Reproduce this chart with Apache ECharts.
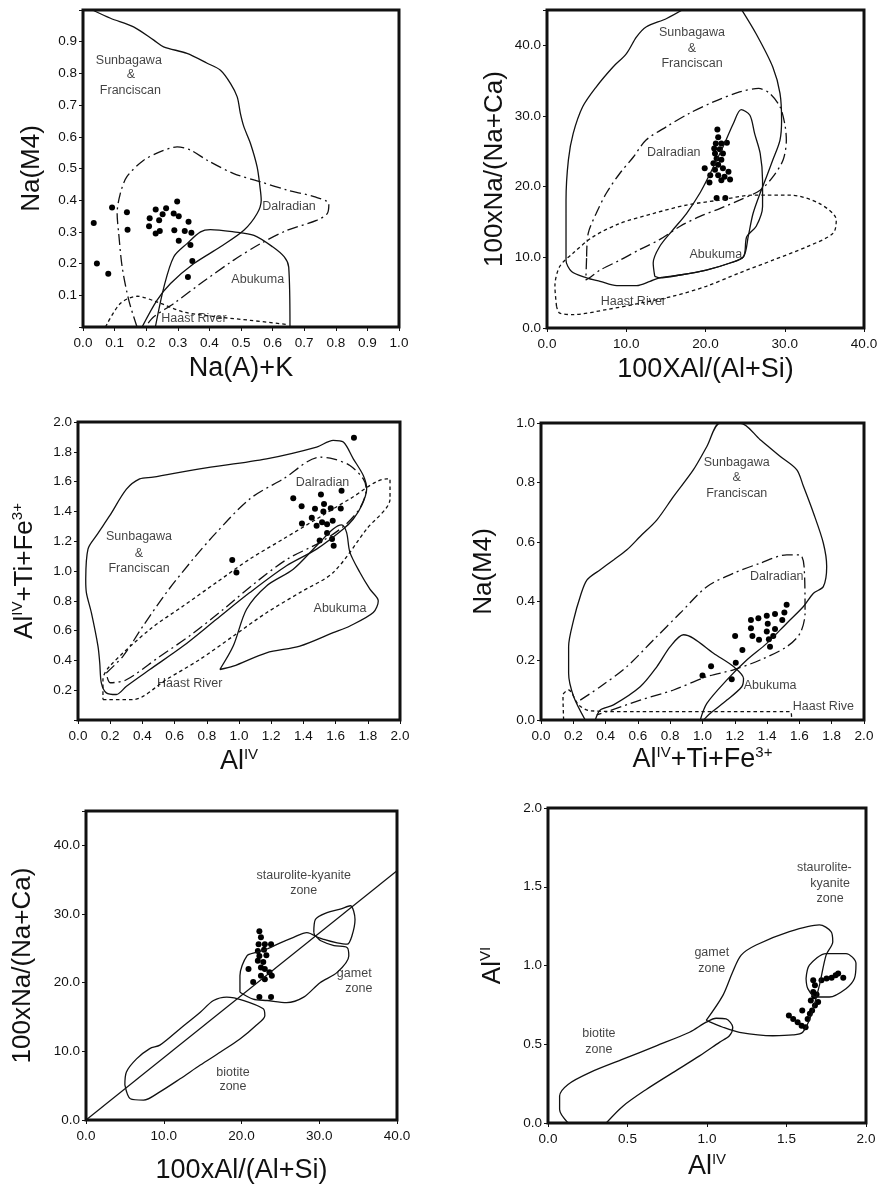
<!DOCTYPE html>
<html><head><meta charset="utf-8">
<script src="https://cdn.jsdelivr.net/npm/echarts@6/dist/echarts.min.js"></script>
<style>html,body{margin:0;padding:0;background:#fff}#c{width:882px;height:1187px}</style>
</head><body><div id="c"></div><script>
// ---------- Panel 1: Na(M4) vs Na(A)+K ----------
const p1Sunbagawa = [[0.03,1.0],[0.087,0.974],[0.16,0.947],[0.224,0.905],[0.255,0.884],[0.329,0.863],[0.393,0.832],[0.435,0.81],[0.467,0.768],[0.488,0.726],[0.498,0.674],[0.509,0.632],[0.53,0.579],[0.551,0.505],[0.56,0.442],[0.564,0.4],[0.551,0.358],[0.509,0.305],[0.435,0.253],[0.351,0.2],[0.277,0.137],[0.234,0.084],[0.187,0.0]];
const p1Dalradian = [[0.171,0.0],[0.145,0.084],[0.124,0.189],[0.113,0.295],[0.108,0.358],[0.118,0.421],[0.139,0.474],[0.192,0.526],[0.245,0.553],[0.298,0.568],[0.34,0.558],[0.393,0.526],[0.477,0.484],[0.562,0.458],[0.646,0.432],[0.731,0.411],[0.778,0.389],[0.773,0.358],[0.741,0.337],[0.646,0.305],[0.562,0.263],[0.477,0.211],[0.372,0.137],[0.287,0.074],[0.224,0.032],[0.197,0.0]];
const p1Abukuma = [[0.229,0.0],[0.256,0.126],[0.287,0.221],[0.329,0.263],[0.372,0.3],[0.403,0.307],[0.477,0.3],[0.541,0.289],[0.6,0.253],[0.637,0.221],[0.651,0.189],[0.655,0.0]];
const p1Haast = [[0.071,0.0],[0.118,0.074],[0.171,0.097],[0.234,0.079],[0.319,0.047],[0.425,0.032],[0.53,0.021],[0.646,0.008]];
const p1Points = [[0.034,0.328],[0.044,0.2],[0.08,0.168],[0.092,0.377],[0.139,0.362],[0.141,0.307],[0.211,0.343],[0.209,0.318],[0.23,0.371],[0.241,0.337],[0.252,0.356],[0.263,0.375],[0.23,0.295],[0.243,0.303],[0.287,0.358],[0.298,0.396],[0.303,0.349],[0.289,0.305],[0.303,0.272],[0.322,0.303],[0.334,0.332],[0.343,0.297],[0.34,0.259],[0.346,0.208],[0.332,0.158]];
const p1Labels = [["Sunbagawa",0.145,0.842],["&",0.152,0.795],["Franciscan",0.15,0.747],["Dalradian",0.652,0.379],["Abukuma",0.553,0.149],["Haast River",0.351,0.026]];

// ---------- Panel 2: 100xNa/(Na+Ca) vs 100XAl/(Al+Si) ----------
const p2Sunbagawa = [[17.8,45.5],[15.1,43.8],[12.5,42.6],[11.3,41.2],[10.0,38.8],[8.3,36.9],[6.2,34.1],[4.5,31.3],[3.3,27.5],[2.7,23.8],[2.4,18.1],[2.4,13.4],[2.4,9.6],[3.1,8.0],[5.0,7.1],[6.7,6.6],[8.8,6.0],[11.3,6.0],[13.0,6.6],[14.2,7.1],[16.8,7.5],[20.1,8.2],[23.1,9.2],[24.8,10.1],[25.4,13.0],[26.0,16.2],[26.9,19.1],[27.7,21.4],[28.5,23.8],[29.4,26.6],[29.6,29.4],[29.4,33.2],[28.5,36.9],[26.4,41.6],[24.3,45.5]];
const p2Dalradian = [[5.0,10.1],[5.2,13.4],[6.2,16.2],[7.5,19.1],[9.2,21.9],[10.9,24.2],[12.5,26.6],[15.1,28.5],[18.0,30.4],[21.0,32.0],[24.3,33.4],[26.7,33.9],[28.1,33.2],[29.4,31.3],[30.0,28.9],[30.2,26.6],[29.8,23.8],[28.5,21.4],[26.9,19.5],[24.3,18.1],[21.8,16.9],[19.3,15.8],[16.8,14.4],[14.2,12.5],[11.7,11.1],[9.2,9.6],[6.7,8.2],[5.6,7.3],[4.9,6.8],[5.0,10.1]];
const p2Abukuma = [[13.6,7.3],[13.4,9.2],[14.2,11.5],[15.9,13.9],[17.6,16.2],[19.3,19.1],[20.6,21.9],[22.2,25.6],[23.5,28.9],[24.5,30.9],[25.6,30.1],[26.2,27.5],[26.9,24.7],[27.2,20.9],[27.2,17.2],[26.4,14.4],[25.2,12.9],[24.8,10.1],[23.1,9.2],[20.1,8.2],[16.8,7.5],[14.2,7.1],[13.6,7.3]];
const p2Haast = [[1.2,3.1],[1.0,5.9],[1.6,8.7],[3.3,10.6],[5.8,12.9],[9.2,14.8],[13.4,16.2],[17.6,17.4],[21.8,18.1],[26.0,18.8],[30.7,18.8],[34.4,17.6],[36.5,15.3],[36.1,13.4],[32.8,11.5],[28.5,9.6],[24.3,7.8],[20.1,5.9],[15.9,4.5],[11.7,3.5],[7.5,2.6],[3.3,1.9],[1.6,2.1],[1.2,3.1]];
const p2Points = [[21.5,28.1],[21.6,27.0],[21.3,26.1],[22.0,26.1],[22.7,26.2],[21.1,25.4],[21.8,25.3],[21.2,24.7],[22.2,24.7],[21.4,24.0],[22.0,23.8],[21.0,23.3],[21.6,23.1],[19.9,22.6],[21.2,22.4],[22.2,22.6],[22.9,22.1],[21.6,21.6],[22.4,21.4],[23.1,21.0],[20.6,21.6],[22.0,20.9],[20.5,20.6],[21.4,18.4],[22.5,18.4]];
const p2Labels = [["Sunbagawa",18.3,41.8],["&",18.3,39.5],["Franciscan",18.3,37.4],["Dalradian",16.0,24.8],["Abukuma",21.3,10.4],["Haast River",10.9,3.8]];

// ---------- Panel 3: AlIV+Ti+Fe3+ vs AlIV ----------
const p3Sunbagawa = [[0.048,0.945],[0.062,1.147],[0.114,1.237],[0.197,1.371],[0.301,1.549],[0.383,1.618],[0.466,1.63],[0.756,1.686],[1.171,1.753],[1.482,1.832],[1.585,1.877],[1.648,1.865],[1.71,1.753],[1.772,1.641],[1.793,1.551],[1.762,1.439],[1.71,1.349],[1.648,1.282],[1.482,1.147],[1.295,1.035],[1.067,0.855],[0.86,0.676],[0.653,0.496],[0.446,0.339],[0.301,0.227],[0.238,0.171],[0.176,0.182],[0.145,0.249],[0.135,0.384],[0.124,0.496],[0.083,0.72],[0.052,0.855],[0.048,0.945]];
const p3Dalradian = [[0.176,0.316],[0.28,0.429],[0.404,0.631],[0.549,0.855],[0.715,1.08],[0.86,1.259],[1.067,1.484],[1.275,1.618],[1.503,1.764],[1.585,1.753],[1.689,1.708],[1.772,1.618],[1.79,1.55],[1.75,1.42],[1.65,1.3],[1.5,1.19],[1.3,1.08],[1.1,0.92],[0.9,0.74],[0.7,0.57],[0.5,0.42],[0.3,0.27],[0.2,0.25],[0.176,0.316]];
const p3Abukuma = [[0.881,0.339],[0.964,0.496],[1.047,0.743],[1.171,0.9],[1.337,1.012],[1.482,1.17],[1.585,1.282],[1.637,1.31],[1.668,1.259],[1.689,1.125],[1.751,0.99],[1.813,0.878],[1.865,0.799],[1.834,0.721],[1.689,0.631],[1.585,0.586],[1.378,0.496],[1.171,0.451],[0.964,0.361],[0.881,0.339]];
const p3Haast = [[0.155,0.137],[0.342,0.137],[0.549,0.272],[0.756,0.406],[0.964,0.563],[1.171,0.72],[1.378,0.855],[1.585,0.99],[1.793,1.282],[1.938,1.484],[1.938,1.618],[1.917,1.618],[1.689,1.484],[1.482,1.349],[1.275,1.215],[1.067,1.08],[0.86,0.923],[0.653,0.765],[0.446,0.608],[0.197,0.361],[0.155,0.272],[0.155,0.137]];
const p3Points = [[1.714,1.895],[1.337,1.488],[1.389,1.434],[1.391,1.318],[1.509,1.513],[1.637,1.538],[1.472,1.418],[1.528,1.45],[1.57,1.421],[1.632,1.419],[1.524,1.4],[1.452,1.358],[1.482,1.304],[1.516,1.327],[1.582,1.338],[1.547,1.313],[1.547,1.255],[1.501,1.205],[1.578,1.214],[1.588,1.17],[0.958,1.073],[0.984,0.99]];
const p3Labels = [["Dalradian",1.519,1.596],["Sunbagawa",0.379,1.232],["&",0.379,1.12],["Franciscan",0.379,1.019],["Abukuma",1.627,0.747],["Haast River",0.694,0.245]];

// ---------- Panel 4: Na(M4) vs AlIV+Ti+Fe3+ ----------
const p4Sunbagawa = [[0.274,0.0],[0.202,0.079],[0.171,0.157],[0.171,0.247],[0.202,0.337],[0.243,0.416],[0.285,0.472],[0.367,0.506],[0.449,0.539],[0.532,0.573],[0.614,0.618],[0.718,0.674],[0.821,0.753],[0.944,0.843],[1.027,0.921],[1.109,1.0],[1.233,1.0],[1.357,0.944],[1.48,0.888],[1.583,0.843],[1.625,0.787],[1.687,0.697],[1.748,0.596],[1.769,0.517],[1.748,0.449],[1.687,0.427],[1.625,0.382],[1.522,0.326],[1.398,0.258],[1.274,0.202],[1.151,0.135],[1.027,0.056],[0.986,0.0]];
const p4Dalradian = [[0.243,0.067],[0.367,0.112],[0.532,0.18],[0.697,0.27],[0.862,0.36],[1.027,0.449],[1.192,0.494],[1.357,0.528],[1.522,0.556],[1.604,0.556],[1.629,0.517],[1.635,0.36],[1.604,0.292],[1.522,0.247],[1.357,0.202],[1.192,0.169],[1.027,0.146],[0.821,0.101],[0.614,0.067],[0.408,0.028],[0.345,0.017]];
const p4Abukuma = [[0.336,0.0],[0.367,0.034],[0.449,0.051],[0.614,0.112],[0.718,0.18],[0.8,0.247],[0.882,0.287],[0.944,0.275],[1.068,0.225],[1.192,0.18],[1.254,0.14],[1.243,0.112],[1.151,0.067],[1.047,0.022],[1.006,0.0]];
const p4Haast = [[0.14,0.0],[0.136,0.084],[0.171,0.101],[0.233,0.051],[0.305,0.031],[0.6,0.028],[1.0,0.028],[1.546,0.028],[1.552,0.0]];
const p4Points = [[1.521,0.388],[1.507,0.362],[1.449,0.357],[1.398,0.351],[1.346,0.343],[1.3,0.337],[1.494,0.337],[1.404,0.324],[1.3,0.309],[1.449,0.306],[1.398,0.298],[1.309,0.283],[1.35,0.27],[1.438,0.283],[1.411,0.272],[1.202,0.283],[1.418,0.247],[1.247,0.236],[1.206,0.193],[1.053,0.181],[1.0,0.15],[1.181,0.137]];
const p4Labels = [["Sunbagawa",1.212,0.867],["&",1.212,0.815],["Franciscan",1.212,0.764],["Dalradian",1.46,0.483],["Abukuma",1.419,0.115],["Haast Rive",1.748,0.045]];

// ---------- Panel 5: 100xNa/(Na+Ca) vs 100xAl/(Al+Si), zones ----------
const p5Trend = [[0,0],[40,36.3]];
const p5Biotite = [[5.0,5.1],[5.2,7.0],[6.5,8.9],[8.2,10.4],[9.5,10.9],[12.1,13.3],[14.7,15.7],[16.4,17.4],[18.1,17.9],[20.3,17.4],[22.8,16.2],[23.0,15.2],[21.9,13.8],[19.8,11.8],[17.3,9.9],[14.7,8.0],[12.1,6.0],[9.5,4.1],[7.4,2.9],[5.7,3.1],[5.0,5.1]];
const p5Garnet = [[19.8,18.6],[19.8,21.0],[20.7,23.9],[21.9,24.4],[23.3,24.9],[25.0,25.8],[26.7,26.6],[28.4,27.3],[29.5,26.8],[30.2,26.1],[31.9,25.4],[33.6,25.1],[33.8,23.9],[32.3,21.5],[30.1,20.0],[28.0,17.9],[25.8,17.1],[23.3,17.4],[21.5,17.6],[19.8,18.6]];
const p5Staurolite = [[29.3,27.3],[29.5,29.2],[31.0,30.2],[32.7,30.7],[34.0,31.2],[34.6,29.2],[34.2,26.8],[33.6,25.6],[32.3,25.8],[30.6,26.3],[29.5,26.8],[29.3,27.3]];
const p5Points = [[22.3,27.5],[22.5,26.6],[22.2,25.6],[23.0,25.6],[23.8,25.6],[22.1,24.6],[22.9,24.8],[22.3,23.9],[23.2,24.0],[22.1,23.2],[22.8,23.0],[20.9,22.0],[22.5,22.2],[23.0,22.0],[23.6,21.5],[23.9,21.0],[22.5,21.0],[23.0,20.5],[21.5,20.1],[22.3,17.9],[23.8,17.9]];
const p5Labels = [["staurolite-kyanite",28.0,35.6],["zone",28.0,33.4],["gamet",34.5,21.4],["zone",35.1,19.2],["biotite",18.9,6.9],["zone",18.9,4.8]];

// ---------- Panel 6: AlVI vs AlIV, zones ----------
const p6Biotite = [[0.126,0.0],[0.073,0.085],[0.073,0.171],[0.126,0.245],[0.262,0.32],[0.471,0.405],[0.681,0.49],[0.89,0.576],[0.995,0.64],[1.058,0.665],[1.12,0.661],[1.162,0.608],[1.141,0.554],[1.078,0.512],[0.953,0.426],[0.785,0.32],[0.618,0.213],[0.471,0.107],[0.366,0.0]];
const p6Garnet = [[0.995,0.651],[1.1,0.81],[1.162,0.96],[1.215,1.066],[1.309,1.13],[1.518,1.215],[1.707,1.258],[1.78,1.215],[1.791,1.151],[1.749,1.066],[1.707,0.874],[1.654,0.682],[1.602,0.576],[1.539,0.559],[1.414,0.554],[1.204,0.576],[1.1,0.608],[0.995,0.651]];
const p6Staurolite = [[1.623,0.917],[1.644,1.002],[1.749,1.076],[1.874,1.076],[1.937,1.013],[1.927,0.917],[1.874,0.853],[1.77,0.8],[1.686,0.8],[1.634,0.853],[1.623,0.917]];
const p6Points = [[1.515,0.682],[1.542,0.661],[1.57,0.64],[1.595,0.618],[1.62,0.608],[1.599,0.714],[1.633,0.661],[1.647,0.693],[1.661,0.714],[1.679,0.746],[1.653,0.778],[1.674,0.804],[1.668,0.832],[1.689,0.816],[1.679,0.874],[1.668,0.906],[1.72,0.906],[1.752,0.917],[1.784,0.923],[1.809,0.938],[1.825,0.949],[1.857,0.923],[1.699,0.768]];
const p6Labels = [["staurolite-",1.738,1.62],["kyanite",1.774,1.52],["zone",1.774,1.424],["gamet",1.03,1.083],["zone",1.03,0.981],["biotite",0.32,0.565],["zone",0.32,0.465]];

// ---------- axis set-up ----------
const xTitles = ["Na(A)+K","100XAl/(Al+Si)","Al{s|IV}","Al{s|IV}+Ti+Fe{s|3+}","100xAl/(Al+Si)","Al{s|IV}"];
const yTitles = ["Na(M4)","100xNa/(Na+Ca)","Al{s|IV}+Ti+Fe{s|3+}","Na(M4)","100xNa/(Na+Ca)","Al{s|VI}"];

const FONT = '"Liberation Sans", Arial, Helvetica, sans-serif';
const INK = '#111111';
const DASH = { solid: 'solid', dashdot: [11, 4, 2, 4], dash: [3.5, 3] };

const grids = [
  { left: 83, top: 10, width: 316, height: 317 },
  { left: 547, top: 10, width: 317, height: 318 },
  { left: 78, top: 422, width: 322, height: 298 },
  { left: 541, top: 423, width: 323, height: 297 },
  { left: 86, top: 811, width: 311, height: 311 },
  { left: 548, top: 808, width: 318, height: 315 }
];
const xScale = [[0,1,0.1],[0,40,10],[0,2,0.2],[0,2,0.2],[0,40,10],[0,2,0.5]];
const yScale = [[0,1,0.1],[0,45,10],[0,2,0.2],[0,1,0.2],[0,45,10],[0,2,0.5]];
const yHide = [[0,1],[],[0],[],[],[]];
const xGap = [27, 27, 27, 25, 36, 29];
const yGap = [36, 37, 38, 42, 48, 40];

const rich = { s: { fontSize: 15, lineHeight: 15, verticalAlign: 'top', fontFamily: FONT, color: INK } };

function fmt(hide, step) {
  return function (v) {
    const k = Math.round(v / step * 1000) / 1000;
    if (Math.abs(k - Math.round(k)) > 1e-6) return '';
    for (const h of hide) if (Math.abs(v - h) < 1e-9) return '';
    return v.toFixed(1);
  };
}

const xAxes = [], yAxes = [], series = [];
grids.forEach((g, i) => {
  xAxes.push({
    gridIndex: i, type: 'value', min: xScale[i][0], max: xScale[i][1], interval: xScale[i][2],
    name: xTitles[i], nameLocation: 'middle', nameGap: xGap[i],
    nameTextStyle: { fontSize: 27, fontFamily: FONT, color: INK, lineHeight: 30, rich: rich },
    axisLine: { show: false }, splitLine: { show: false },
    axisTick: { show: true, length: 4, lineStyle: { color: INK, width: 1 } },
    axisLabel: { fontSize: 13.5, fontFamily: FONT, color: INK, margin: 9, formatter: fmt([], xScale[i][2]) }
  });
  yAxes.push({
    gridIndex: i, type: 'value', min: yScale[i][0], max: yScale[i][1], interval: yScale[i][2],
    name: yTitles[i], nameLocation: 'middle', nameGap: yGap[i], nameRotate: 90,
    nameTextStyle: { fontSize: 26, fontFamily: FONT, color: INK, lineHeight: 30, rich: rich },
    axisLine: { show: false }, splitLine: { show: false },
    axisTick: { show: true, length: 4, lineStyle: { color: INK, width: 1 } },
    axisLabel: { fontSize: 13.5, fontFamily: FONT, color: INK, margin: 6, formatter: fmt(yHide[i], yScale[i][2]) }
  });
});

function addLine(i, data, kind) {
  series.push({
    type: 'line', xAxisIndex: i, yAxisIndex: i, data: data, showSymbol: false, symbol: 'none',
    smooth: 0.3, clip: true, silent: true,
    lineStyle: { color: INK, width: 1.3, type: DASH[kind] }
  });
}
function addPoints(i, data) {
  series.push({
    type: 'scatter', xAxisIndex: i, yAxisIndex: i, data: data, symbolSize: 6, silent: true,
    itemStyle: { color: '#000000', opacity: 1 }
  });
}
function addLabels(i, list) {
  series.push({
    type: 'scatter', xAxisIndex: i, yAxisIndex: i, symbolSize: 0, silent: true,
    data: list.map(t => ({ name: t[0], value: [t[1], t[2]] })),
    label: { show: true, position: 'inside', formatter: '{b}', fontSize: 12.5, fontFamily: FONT, color: INK }
  });
}

addLine(0, p1Sunbagawa, 'solid'); addLine(0, p1Abukuma, 'solid');
addLine(0, p1Dalradian, 'dashdot'); addLine(0, p1Haast, 'dash');
addPoints(0, p1Points); addLabels(0, p1Labels);

addLine(1, p2Sunbagawa, 'solid'); addLine(1, p2Abukuma, 'solid');
addLine(1, p2Dalradian, 'dashdot'); addLine(1, p2Haast, 'dash');
addPoints(1, p2Points); addLabels(1, p2Labels);

addLine(2, p3Sunbagawa, 'solid'); addLine(2, p3Abukuma, 'solid');
addLine(2, p3Dalradian, 'dashdot'); addLine(2, p3Haast, 'dash');
addPoints(2, p3Points); addLabels(2, p3Labels);

addLine(3, p4Sunbagawa, 'solid'); addLine(3, p4Abukuma, 'solid');
addLine(3, p4Dalradian, 'dashdot'); addLine(3, p4Haast, 'dash');
addPoints(3, p4Points); addLabels(3, p4Labels);

series.push({ type: 'line', xAxisIndex: 4, yAxisIndex: 4, data: p5Trend, showSymbol: false, symbol: 'none', silent: true, lineStyle: { color: INK, width: 1.2 } });
addLine(4, p5Biotite, 'solid'); addLine(4, p5Garnet, 'solid'); addLine(4, p5Staurolite, 'solid');
addPoints(4, p5Points); addLabels(4, p5Labels);

addLine(5, p6Biotite, 'solid'); addLine(5, p6Garnet, 'solid'); addLine(5, p6Staurolite, 'solid');
addPoints(5, p6Points); addLabels(5, p6Labels);

const chart = echarts.init(document.getElementById('c'), null, { renderer: 'canvas' });
chart.setOption({
  backgroundColor: '#ffffff',
  animation: false,
  grid: grids.map(g => Object.assign({ show: true, borderColor: '#111', borderWidth: 3, backgroundColor: 'transparent', containLabel: false }, g)),
  xAxis: xAxes,
  yAxis: yAxes,
  series: series
});
</script></body></html>
